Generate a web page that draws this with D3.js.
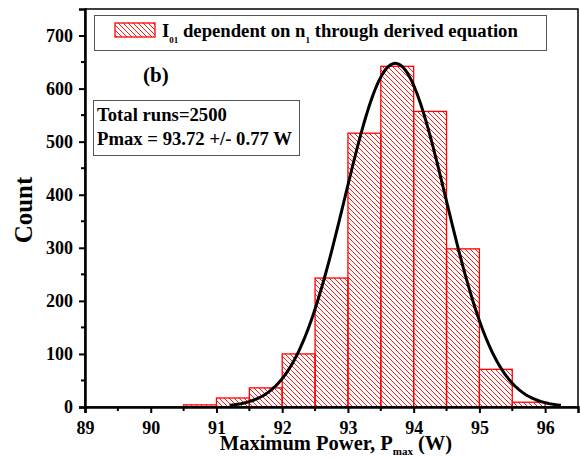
<!DOCTYPE html>
<html lang="en">
<head>
<meta charset="UTF-8">
<title>Pmax histogram</title>
<style>
  body { margin: 0; background: #fff; }
  text { font-family: "Liberation Serif", "Times New Roman", serif; font-weight: bold; }
</style>
</head>
<body>
<svg width="580" height="459" id="svg"></svg>
<script src="https://d3js.org/d3.v7.min.js"></script>
<script>
// bin left edges (W), bin width 0.5
const binStarts = [90.5, 91, 91.5, 92, 92.5, 93, 93.5, 94, 94.5, 95, 95.5]
const counts = [4, 17, 36, 100, 243, 516, 642, 557, 298, 71, 9]
const binWidth = 0.5
// gaussian fit shown on the chart
const fitMean = 93.72
const fitSigma = 0.77
const totalRuns = 2500
const fitRange = [91.2, 96.25]
const xTicks = [89, 90, 91, 92, 93, 94, 95, 96]
const yTicks = [0, 100, 200, 300, 400, 500, 600, 700]

const svg = d3.select("svg#svg")
const padding = { top: 9, right: 2, bottom: 52, left: 85 }
const width = +svg.attr("width")
const height = +svg.attr("height")
const innerWidth = width - padding.left - padding.right
const innerHeight = height - padding.top - padding.bottom

const xScale = d3.scaleLinear().domain([89, 96.5]).range([0, innerWidth])
const yScale = d3.scaleLinear().domain([0, 750]).range([innerHeight, 0])

// hatch pattern
const defs = svg.append("defs")
const pat = defs.append("pattern").attr("id", "hatch")
  .attr("patternUnits", "userSpaceOnUse").attr("width", 5).attr("height", 5)
pat.append("path").attr("d", "M0,0 L5,5 M-1,4 L1,6 M4,-1 L6,1")
  .attr("stroke", "#ff0000").attr("stroke-width", 0.9)

const g = svg.append("g").attr("transform", `translate(${padding.left},${padding.top})`)

// bars
g.selectAll("rect.bar").data(binStarts).enter().append("rect")
  .attr("class", "bar")
  .attr("x", d => xScale(d))
  .attr("width", d => xScale(d + binWidth) - xScale(d))
  .attr("y", (d, i) => yScale(counts[i]))
  .attr("height", (d, i) => yScale(0) - yScale(counts[i]))
  .attr("fill", "url(#hatch)")
  .attr("stroke", "#ff0000")
  .attr("stroke-width", 1.3)

// fit curve
const amp = totalRuns * binWidth / (fitSigma * Math.sqrt(2 * Math.PI))
const curveX = d3.range(fitRange[0], fitRange[1] + 0.001, 0.02)
const line = d3.line()
  .x(d => xScale(d))
  .y(d => yScale(amp * Math.exp(-0.5 * Math.pow((d - fitMean) / fitSigma, 2))))
  .curve(d3.curveBasis)
g.append("path").datum(curveX).attr("d", line)
  .attr("fill", "none").attr("stroke", "#000").attr("stroke-width", 3)

// frame
g.append("rect").attr("x", 0).attr("y", 0).attr("width", innerWidth).attr("height", innerHeight)
  .attr("fill", "none").attr("stroke", "#000").attr("stroke-width", 1.5)

// axes
const xAxis = d3.axisBottom(xScale).tickValues(xTicks).tickFormat(d3.format("d")).tickSize(6).tickPadding(8)
const gx = g.append("g").attr("transform", `translate(0,${innerHeight})`).call(xAxis)
gx.select(".domain").attr("stroke-width", 2.5)
gx.selectAll("line").attr("stroke-width", 2)
gx.selectAll("text").attr("font-size", 18).attr("fill", "#000")
  .style("font-family", "Liberation Serif").style("font-weight", "bold")

const yAxis = d3.axisLeft(yScale).tickValues(yTicks).tickSize(6).tickPadding(6)
const gy = g.append("g").call(yAxis)
gy.select(".domain").attr("stroke-width", 2.5)
gy.selectAll("line").attr("stroke-width", 2)
gy.selectAll("text").attr("font-size", 18).attr("fill", "#000")
  .style("font-family", "Liberation Serif").style("font-weight", "bold")

// minor ticks
g.append("g").selectAll("line").data(d3.range(89.5, 96.5, 1)).enter().append("line")
  .attr("x1", d => xScale(d)).attr("x2", d => xScale(d))
  .attr("y1", innerHeight).attr("y2", innerHeight + 4)
  .attr("stroke", "#000").attr("stroke-width", 2)
g.append("g").selectAll("line").data(d3.range(50, 750, 100)).enter().append("line")
  .attr("x1", 0).attr("x2", -4)
  .attr("y1", d => yScale(d)).attr("y2", d => yScale(d))
  .attr("stroke", "#000").attr("stroke-width", 2)

// axis titles
svg.append("text").attr("transform", "translate(32,210) rotate(-90)")
  .attr("text-anchor", "middle").attr("font-size", 25).text("Count")

const xt = svg.append("text").attr("x", 336).attr("y", 450).attr("text-anchor", "middle").attr("font-size", 20.5)
xt.append("tspan").text("Maximum Power, P")
xt.append("tspan").attr("font-size", 11).attr("dy", 5).text("max")
xt.append("tspan").attr("dy", -5).text(" (W)")

// legend
svg.append("rect").attr("x", 94.5).attr("y", 15.5).attr("width", 452).attr("height", 35)
  .attr("fill", "#fff").attr("stroke", "#555").attr("stroke-width", 1)
svg.append("rect").attr("x", 115).attr("y", 23).attr("width", 40).attr("height", 14)
  .attr("fill", "url(#hatch)").attr("stroke", "#ff0000").attr("stroke-width", 1.3)
const lt = svg.append("text").attr("x", 162).attr("y", 37).attr("font-size", 18.7)
lt.append("tspan").text("I")
lt.append("tspan").attr("font-size", 9).attr("dy", 6).text("01")
lt.append("tspan").attr("dy", -6).text(" dependent on n")
lt.append("tspan").attr("font-size", 9).attr("dy", 6).text("1")
lt.append("tspan").attr("dy", -6).text(" through derived equation")

// panel label
svg.append("text").attr("x", 143).attr("y", 82).attr("font-size", 21).text("(b)")

// stats box
svg.append("rect").attr("x", 93.5).attr("y", 100.5).attr("width", 206).attr("height", 55)
  .attr("fill", "#fff").attr("stroke", "#555").attr("stroke-width", 1)
svg.append("text").attr("x", 97).attr("y", 121).attr("font-size", 18.7).text(`Total runs=${totalRuns}`)
svg.append("text").attr("x", 97).attr("y", 145).attr("font-size", 18.7).text(`Pmax = ${fitMean} +/- ${fitSigma} W`)
</script>
</body>
</html>
